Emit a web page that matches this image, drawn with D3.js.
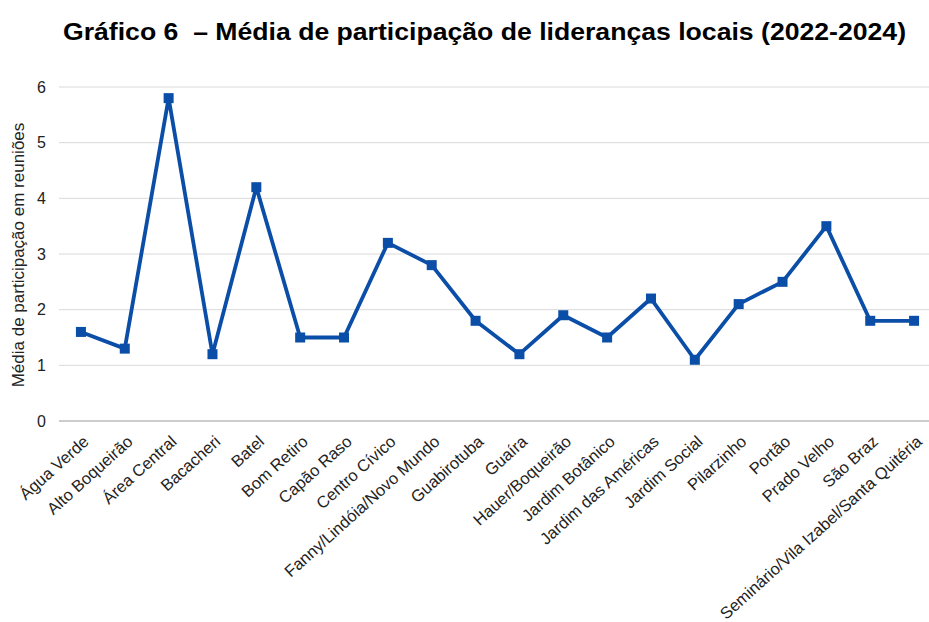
<!DOCTYPE html>
<html lang="pt">
<head>
    <meta charset="UTF-8">
    <title>Gráfico 6</title>
    <style>
        body{margin:0;background:#fff;font-family:"Liberation Sans",Arial,sans-serif;}
        .axis text{fill:#222;font-size:16px;font-family:"Liberation Sans",Arial,sans-serif}
        .xaxis text{fill:#222;font-size:16.5px}
    </style>
    <script src="https://cdn.jsdelivr.net/npm/d3@7"></script>
</head>
<body>
<svg width="929" height="622"></svg>
<script type="text/javascript">
    var bairros = ["Água Verde","Alto Boqueirão","Área Central","Bacacheri","Batel","Bom Retiro",
        "Capão Raso","Centro Cívico","Fanny/Lindóia/Novo Mundo","Guabirotuba","Guaíra",
        "Hauer/Boqueirão","Jardim Botânico","Jardim das Américas","Jardim Social","Pilarzinho",
        "Portão","Prado Velho","São Braz","Seminário/Vila Izabel/Santa Quitéria"];
    var medias = [1.6,1.3,5.8,1.2,4.2,1.5,1.5,3.2,2.8,1.8,1.2,1.9,1.5,2.2,1.1,2.1,2.5,3.5,1.8,1.8];
    var yTicks = [0,1,2,3,4,5,6];

    var width = 929, height = 622;
    // margens do grafico (evitar o nome "top", que e reservado no window)
    var mLeft = 59, mRight = 936, mTop = 87, mBottom = 421;
    var svg = d3.select("svg");
    var cor = "#0b4ea8";

    var x = d3.scalePoint().domain(bairros).range([mLeft, mRight]).padding(0.5);
    var y = d3.scaleLinear().domain([0, 6]).range([mBottom, mTop]);

    // titulo
    svg.append("text")
        .attr("x", 63).attr("y", 40)
        .attr("textLength", 843)
        .attr("lengthAdjust", "spacingAndGlyphs")
        .style("white-space", "pre")
        .style("font-size", "23px").style("font-weight", "bold").style("fill", "#000")
        .text("Gráfico 6  – Média de participação de lideranças locais (2022-2024)");

    // linhas de grade
    svg.append("g")
        .selectAll("line").data(yTicks).enter().append("line")
        .attr("x1", mLeft).attr("x2", width)
        .attr("y1", function(d){return y(d);}).attr("y2", function(d){return y(d);})
        .style("stroke", function(d){return d === 0 ? "#9a9a9a" : "#d9d9d9";})
        .style("stroke-width", 1);

    // eixo y
    var yAxis = svg.append("g").attr("class", "axis")
        .attr("transform", "translate(" + mLeft + ",0)")
        .call(d3.axisLeft(y).tickValues(yTicks).tickSize(0).tickPadding(13).tickFormat(d3.format("d")));
    yAxis.select(".domain").remove();

    svg.append("text")
        .attr("transform", "translate(24,255) rotate(-90)")
        .attr("text-anchor", "middle")
        .style("font-size", "17px").style("fill", "#222")
        .text("Média de participação em reuniões");

    // eixo x (rotulos inclinados)
    svg.append("g").attr("class", "xaxis")
        .selectAll("text").data(bairros).enter().append("text")
        .attr("text-anchor", "end")
        .attr("transform", function(d){ return "translate(" + (x(d) + 9) + "," + (mBottom + 22) + ") rotate(-42)"; })
        .text(function(d){return d;});

    // linha
    var line = d3.line()
        .x(function(d, i){return x(bairros[i]);})
        .y(function(d){return y(d);});
    svg.append("path")
        .datum(medias)
        .attr("d", line)
        .attr("fill", "none")
        .attr("stroke", cor)
        .attr("stroke-width", 3.8)
        .attr("stroke-linejoin", "round");

    // marcadores
    svg.selectAll("rect.pt")
        .data(medias).enter().append("rect")
        .attr("class", "pt")
        .attr("x", function(d, i){return x(bairros[i]) - 5;})
        .attr("y", function(d){return y(d) - 5;})
        .attr("width", 10).attr("height", 10)
        .attr("fill", cor);
</script>
</body>
</html>
